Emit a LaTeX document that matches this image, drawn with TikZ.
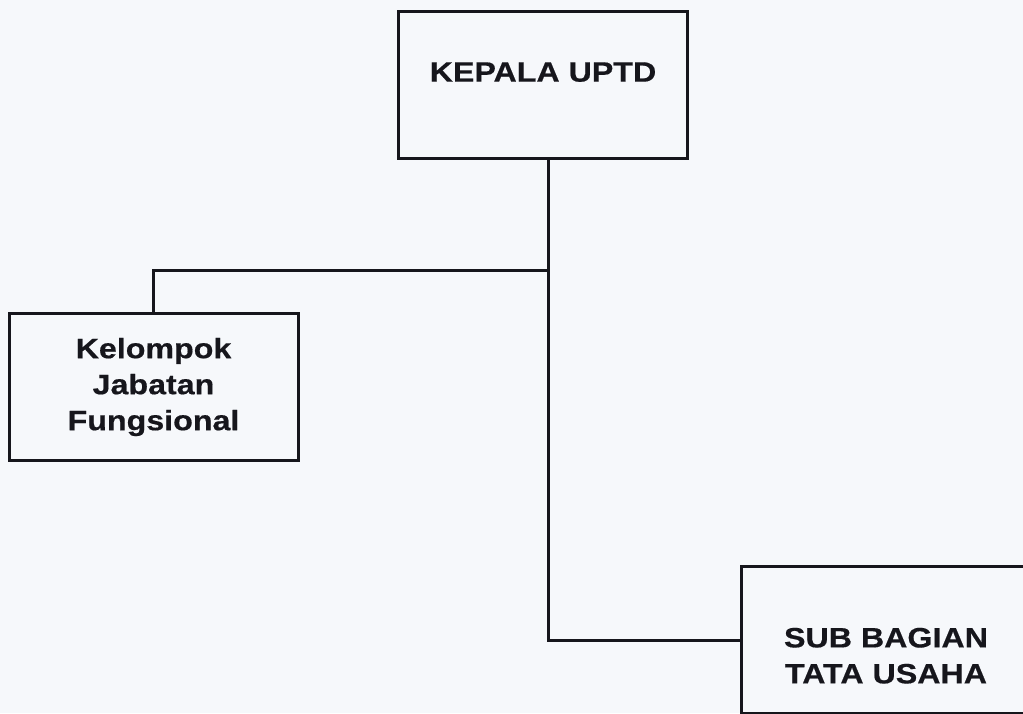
\documentclass[tikz,border=0pt]{standalone}
\usepackage{fontspec}
\setmainfont{Liberation Sans}[FakeStretch=1.15, BoldFeatures={FakeBold=0.5}]
\usetikzlibrary{positioning}
\definecolor{scanbg}{RGB}{246,248,251}
\definecolor{ink}{RGB}{22,22,28}

\begin{document}
\begin{tikzpicture}[x=1pt, y=1pt,
  every node/.style={inner sep=2pt},
  unit/.style={draw=ink, line width=3pt, fill=scanbg, align=center,
               font=\fontsize{28}{36}\selectfont\bfseries, text=ink,
               minimum width=289pt, minimum height=147pt},
  link/.style={ink, line width=3pt}]
\fill[scanbg] (0,0) rectangle (1023,-713);
\useasboundingbox (0,0) rectangle (1023,-713);
\node[unit, text depth=26pt] (kepala) at (543,-85) {KEPALA UPTD};
\node[unit] (kjf) at (153.5,-387) {Kelompok\\Jabatan\\Fungsional};
\node[unit, text height=87pt] (sub) at (886,-640)
  {SUB BAGIAN\\TATA USAHA};
\coordinate (stem) at ([xshift=5pt]kepala.south);
\coordinate (branch) at (stem |- 0,-270);
\draw[link] (stem) |- (sub.west);
\draw[link] (branch) -| (kjf.north);
\end{tikzpicture}
\end{document}
